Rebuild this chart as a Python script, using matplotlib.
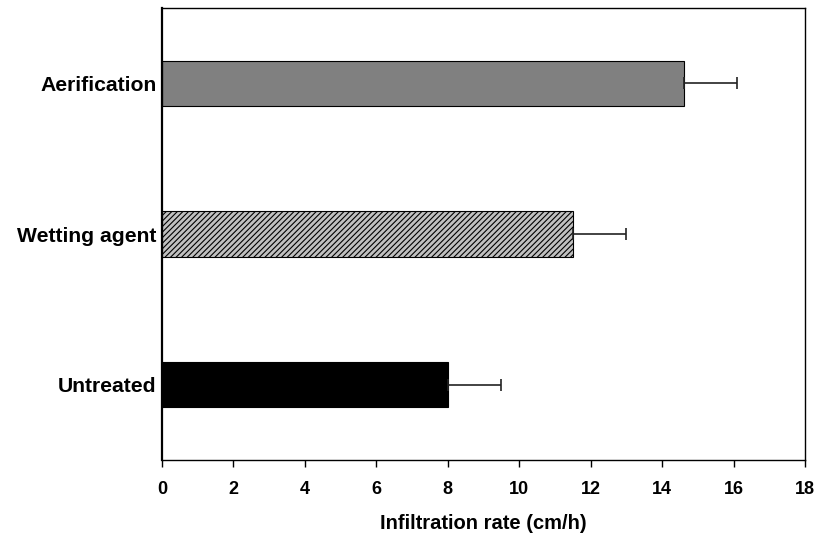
import matplotlib

matplotlib.use("Agg")

import matplotlib.pyplot as plt
import numpy as np

plt.rcParams["font.family"] = ["Liberation Sans", "DejaVu Sans"]
plt.rcParams["hatch.linewidth"] = 0.8

treatments = ["Untreated", "Wetting agent", "Aerification"]
rates = [8.0, 11.5, 14.6]
errors = [1.5, 1.5, 1.5]
fills = ["#000000", "#c0c0c0", "#808080"]
hatches = [None, "//////", None]
xticks = list(range(0, 19, 2))

fig = plt.figure(figsize=(8.14, 5.38), dpi=100)
ax = fig.add_axes([0.199, 0.145, 0.790, 0.840])

pos = np.arange(len(treatments))
for i in range(len(treatments)):
    ax.barh(pos[i], rates[i], height=0.3, color=fills[i], edgecolor="black",
            linewidth=0.8, hatch=hatches[i], zorder=2)
    ax.errorbar(rates[i], pos[i], xerr=[[0], [errors[i]]], fmt="none",
                ecolor="#222222", elinewidth=1.2, capsize=4, capthick=1.2, zorder=3)

ax.set_xlim(0, 18)
ax.set_ylim(-0.5, 2.5)
ax.set_xticks(xticks)
ax.set_xticklabels([str(t) for t in xticks], fontsize=13, fontweight="bold")
ax.set_yticks(pos)
ax.set_yticklabels(treatments, fontsize=15.2, fontweight="bold")
ax.tick_params(axis="x", direction="out", length=5, width=1, pad=10)
ax.tick_params(axis="y", length=0, pad=4)
ax.set_xlabel("Infiltration rate (cm/h)", fontsize=14.5, fontweight="bold", labelpad=12)

for side in ["top", "right", "bottom"]:
    ax.spines[side].set_linewidth(1.0)
ax.spines["left"].set_linewidth(1.6)

fig.savefig("out.png", dpi=100)
plt.close(fig)
